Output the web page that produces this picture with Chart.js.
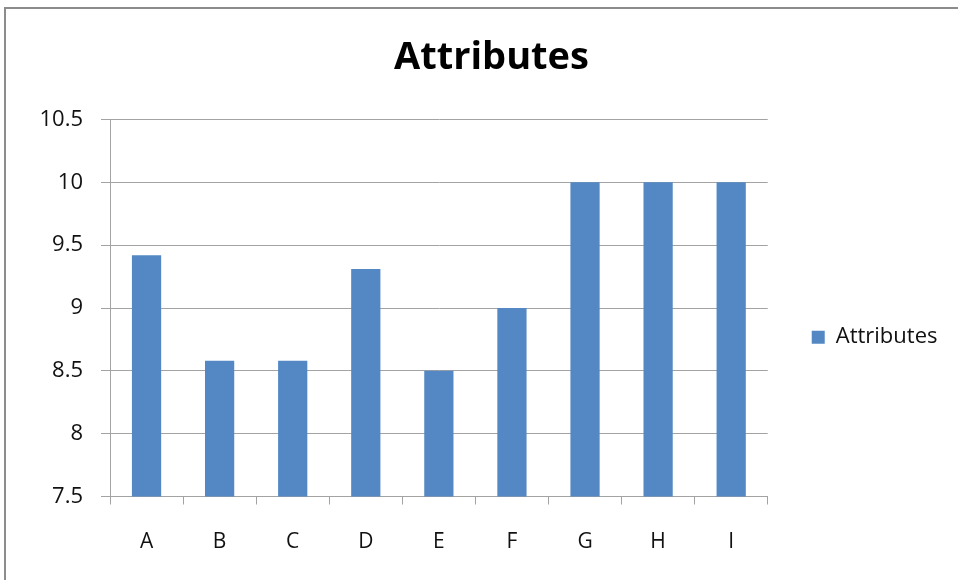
<!DOCTYPE html>
<html>
<head>
<meta charset="utf-8">
<script src="https://cdn.jsdelivr.net/npm/chart.js@4"></script>
<style>
html,body{margin:0;padding:0;background:#fff;}
#wrap{position:relative;width:958px;height:580px;overflow:hidden;}
#frame{position:absolute;left:4px;top:7px;width:1000px;height:1000px;border-left:2px solid #8c8c8c;border-top:2px solid #8c8c8c;pointer-events:none;}
canvas{position:absolute;left:0;top:0;}
</style>
</head>
<body>
<div id="wrap">
<canvas id="c" width="958" height="580"></canvas>
<div id="frame"></div>
</div>
<script>
const categories = ["A","B","C","D","E","F","G","H","I"];
const seriesName = "Attributes";
const values = [9.42, 8.58, 8.58, 9.31, 8.5, 9.0, 10, 10, 10];
const yTicks = [7.5, 8, 8.5, 9, 9.5, 10, 10.5];

const FONT = "'Open Sans', Lato, sans-serif";
const GRID = "#a3a3a3";
const BAR = "#5388c4";

new Chart(document.getElementById("c"), {
  type: "bar",
  data: {
    labels: categories,
    datasets: [{
      label: seriesName,
      data: values,
      backgroundColor: BAR,
      borderWidth: 0,
      barPercentage: 0.4,
      categoryPercentage: 1.0
    }]
  },
  options: {
    responsive: false,
    animation: false,
    devicePixelRatio: 1,
    layout: { padding: { left: 35.5, right: 10.5, top: 0, bottom: 0 } },
    plugins: {
      title: {
        display: true,
        text: seriesName,
        color: "#000",
        font: { family: FONT, size: 38, weight: "bold" },
        padding: { top: 35, bottom: 38.9 }
      },
      legend: {
        display: true,
        position: "right",
        align: "center",
        title: { display: true, text: " ", font: { size: 12 }, padding: 40 },
        labels: {
          boxWidth: 13,
          boxHeight: 13,
          padding: 44,
          color: "#111",
          font: { family: FONT, size: 22 }
        }
      },
      tooltip: { enabled: false }
    },
    scales: {
      x: {
        offset: true,
        grid: {
          display: true,
          offset: true,
          drawOnChartArea: false,
          drawTicks: true,
          tickLength: 8,
          color: GRID,
          lineWidth: 1
        },
        border: { display: true, color: GRID, width: 1 },
        ticks: {
          color: "#111",
          padding: 25,
          font: { family: FONT, size: 21 }
        },
        afterFit: (s) => { s.height = 83.5; }
      },
      y: {
        min: 7.5,
        max: 10.5,
        afterBuildTicks: (s) => { s.ticks = yTicks.map(v => ({ value: v })); },
        grid: {
          display: true,
          color: GRID,
          lineWidth: 1,
          drawTicks: true,
          tickLength: 9
        },
        border: { display: true, color: GRID, width: 1 },
        ticks: {
          color: "#111",
          padding: 18,
          font: { family: FONT, size: 22 },
          callback: (v) => String(v)
        },
        afterFit: (s) => { s.width = 74.5; }
      }
    }
  }
});
</script>
</body>
</html>
